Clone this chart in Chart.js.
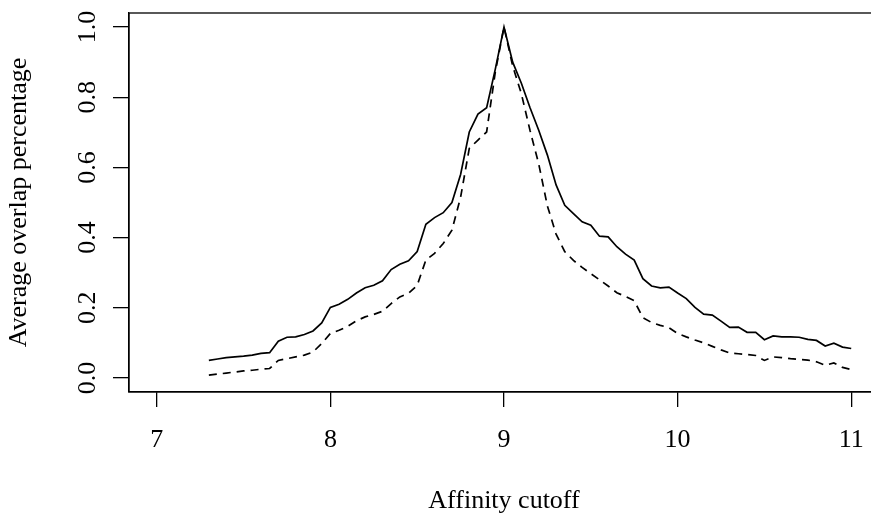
<!DOCTYPE html>
<html>
<head>
<meta charset="utf-8">
<script src="https://cdn.jsdelivr.net/npm/chart.js@4/dist/chart.umd.min.js"></script>
<style>
  html, body { margin: 0; padding: 0; background: #fff; overflow: hidden; }
  #wrap { width: 880px; height: 515px; }
</style>
</head>
<body>
<div id="wrap"><canvas id="c" width="880" height="515"></canvas></div>
<script>
// Affinity cutoff values (x)
const cutoffs = [
  7.30, 7.35, 7.40, 7.45, 7.50, 7.55, 7.60, 7.65, 7.70, 7.75,
  7.80, 7.85, 7.90, 7.95, 8.00, 8.05, 8.10, 8.15, 8.20, 8.25,
  8.30, 8.35, 8.40, 8.45, 8.50, 8.55, 8.60, 8.65, 8.70, 8.75,
  8.80, 8.85, 8.90, 8.95, 9.00, 9.05, 9.10, 9.15, 9.20, 9.25,
  9.30, 9.35, 9.40, 9.45, 9.50, 9.55, 9.60, 9.65, 9.70, 9.75,
  9.80, 9.85, 9.90, 9.95, 10.00, 10.05, 10.10, 10.15, 10.20, 10.25,
  10.30, 10.35, 10.40, 10.45, 10.50, 10.55, 10.60, 10.65, 10.70, 10.75,
  10.80, 10.85, 10.90, 10.95, 11.00
];
// Solid series
const solidSeries = [
  0.050, 0.054, 0.058, 0.060, 0.062, 0.065, 0.070, 0.072, 0.105, 0.116,
  0.117, 0.124, 0.134, 0.157, 0.201, 0.210, 0.224, 0.242, 0.257, 0.264,
  0.277, 0.309, 0.324, 0.334, 0.360, 0.438, 0.457, 0.471, 0.500, 0.580,
  0.701, 0.752, 0.770, 0.880, 1.000, 0.900, 0.840, 0.770, 0.706, 0.635,
  0.550, 0.492, 0.468, 0.445, 0.435, 0.404, 0.402, 0.374, 0.353, 0.336,
  0.283, 0.262, 0.257, 0.259, 0.242, 0.226, 0.201, 0.182, 0.179, 0.162,
  0.144, 0.145, 0.130, 0.130, 0.109, 0.120, 0.117, 0.117, 0.116, 0.110,
  0.107, 0.091, 0.099, 0.088, 0.084
];
// Dashed series
const dashedSeries = [
  0.008, 0.011, 0.014, 0.017, 0.020, 0.022, 0.025, 0.027, 0.050, 0.055,
  0.060, 0.065, 0.074, 0.098, 0.127, 0.136, 0.147, 0.163, 0.174, 0.181,
  0.190, 0.212, 0.231, 0.241, 0.264, 0.336, 0.355, 0.383, 0.421, 0.515,
  0.654, 0.678, 0.701, 0.872, 1.000, 0.889, 0.810, 0.705, 0.610, 0.490,
  0.410, 0.360, 0.335, 0.315, 0.297, 0.280, 0.262, 0.243, 0.232, 0.220,
  0.172, 0.158, 0.150, 0.143, 0.127, 0.117, 0.108, 0.100, 0.090, 0.080,
  0.071, 0.069, 0.067, 0.064, 0.050, 0.060, 0.058, 0.055, 0.053, 0.051,
  0.046, 0.036, 0.043, 0.030, 0.024
];
const xTicks = [7, 8, 9, 10, 11];
const yTicks = [0.0, 0.2, 0.4, 0.6, 0.8, 1.0];
const xTitle = 'Affinity cutoff';
const yTitle = 'Average overlap percentage';

const FONT = "'Liberation Serif', 'Times New Roman', serif";
const fontSpec = { family: FONT, size: 26 };

const toPoints = (ys) => cutoffs.map((x, i) => ({ x: x, y: ys[i] }));

const boxPlugin = {
  id: 'box',
  afterDraw(chart) {
    const { ctx, chartArea: a } = chart;
    ctx.save();
    ctx.strokeStyle = '#000';
    ctx.lineWidth = 1.3;
    ctx.strokeRect(a.left, a.top, a.right - a.left, a.bottom - a.top);
    ctx.restore();
  }
};

new Chart(document.getElementById('c'), {
  type: 'line',
  data: {
    datasets: [
      {
        data: toPoints(solidSeries),
        borderColor: '#000',
        borderWidth: 1.7,
        pointRadius: 0,
        tension: 0,
        fill: false
      },
      {
        data: toPoints(dashedSeries),
        borderColor: '#000',
        borderWidth: 1.7,
        borderDash: [8, 6],
        pointRadius: 0,
        tension: 0,
        fill: false
      }
    ]
  },
  options: {
    responsive: false,
    animation: false,
    devicePixelRatio: 1,
    layout: { padding: { left: 0, top: 13, right: 1, bottom: 0 } },
    plugins: { legend: { display: false }, tooltip: { enabled: false } },
    scales: {
      x: {
        type: 'linear',
        min: 6.84,
        max: 11.16,
        afterBuildTicks: (s) => { s.ticks = xTicks.map(v => ({ value: v })); },
        afterFit: (s) => { s.height = 123; s.paddingLeft = 0; s.paddingRight = 0; },
        ticks: {
          autoSkip: false,
          maxRotation: 0,
          minRotation: 0,
          padding: 18,
          color: '#000',
          font: fontSpec,
          callback: (v) => String(v)
        },
        grid: {
          display: true,
          drawOnChartArea: false,
          drawTicks: true,
          tickLength: 15,
          color: '#000',
          lineWidth: 1.3
        },
        border: { display: true, color: '#000', width: 1.3 },
        title: {
          display: true,
          text: xTitle,
          color: '#000',
          font: fontSpec,
          padding: { top: 0, bottom: -2 }
        }
      },
      y: {
        type: 'linear',
        min: -0.04,
        max: 1.04,
        afterBuildTicks: (s) => { s.ticks = yTicks.map(v => ({ value: v })); },
        afterFit: (s) => { s.width = 129; s.paddingTop = 0; s.paddingBottom = 0; },
        ticks: {
          autoSkip: false,
          minRotation: 90,
          maxRotation: 90,
          crossAlign: 'center',
          padding: 9,
          color: '#000',
          font: fontSpec,
          callback: (v) => Number(v).toFixed(1)
        },
        grid: {
          display: true,
          drawOnChartArea: false,
          drawTicks: true,
          tickLength: 16,
          color: '#000',
          lineWidth: 1.3
        },
        border: { display: true, color: '#000', width: 1.3 },
        title: {
          display: true,
          text: yTitle,
          color: '#000',
          font: fontSpec,
          padding: { top: 4, bottom: 0 }
        }
      }
    }
  },
  plugins: [boxPlugin]
});
</script>
</body>
</html>
